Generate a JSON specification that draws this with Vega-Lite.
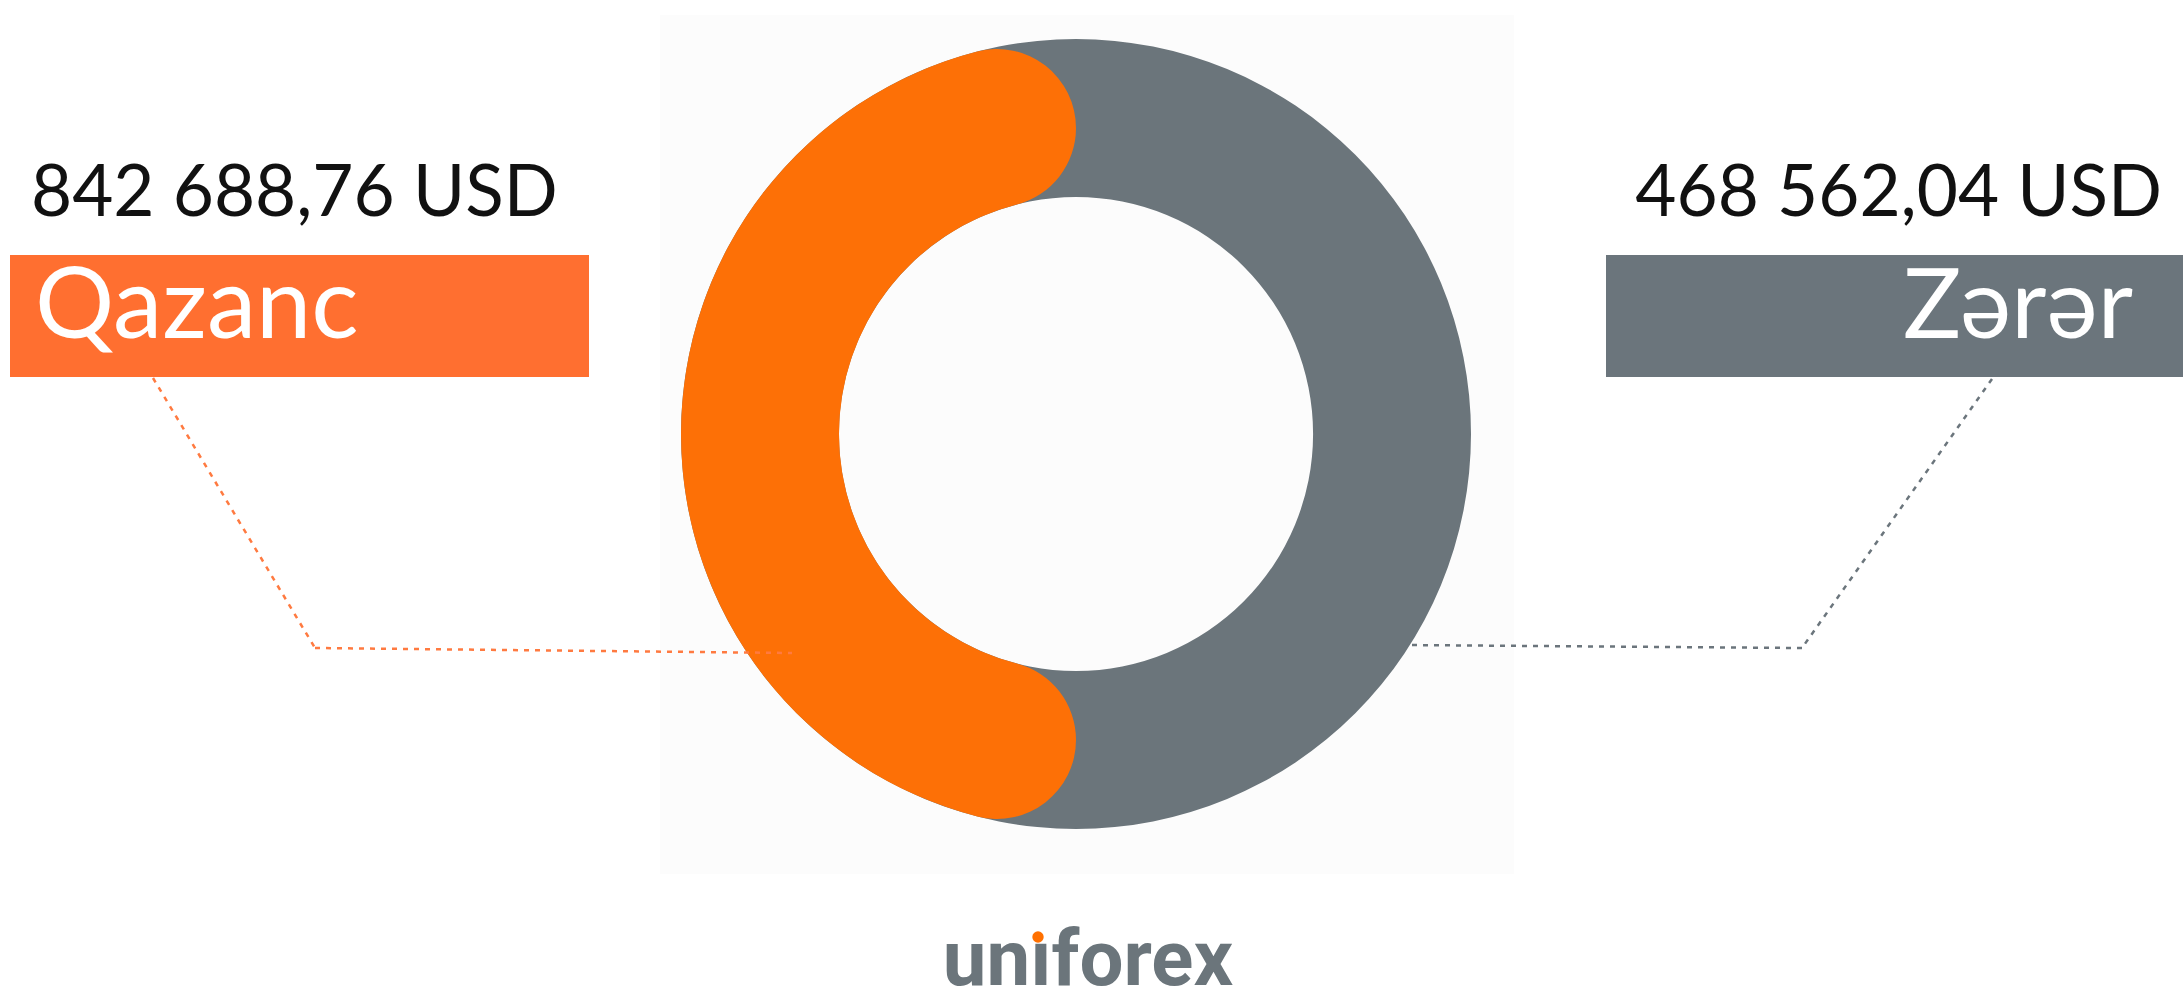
{
  "$schema": "https://vega.github.io/schema/vega-lite/v6.json",
  "width": 2183,
  "height": 990,
  "autosize": {"type": "none"},
  "padding": 0,
  "background": "#ffffff",
  "config": {
    "view": {"stroke": null},
    "locale": {"number": {"decimal": ",", "thousands": " ", "grouping": [3], "currency": ["", " USD"]}}
  },
  "data": {"values": [
    {"category": "Qazanc", "amount": 842688.76},
    {"category": "Zərər", "amount": 468562.04}
  ]},
  "layer": [
    {
      "data": {"values": [{}]},
      "mark": {"type": "rect", "color": "#fcfcfc"},
      "encoding": {
        "x": {"datum": 660, "type": "quantitative", "scale": {"domain": [0, 2183], "nice": false, "zero": false}, "axis": null},
        "x2": {"datum": 1514},
        "y": {"datum": 15, "type": "quantitative", "scale": {"domain": [0, 990], "nice": false, "zero": false, "reverse": true}, "axis": null},
        "y2": {"datum": 874}
      }
    },
    {
      "data": {"values": [{}]},
      "mark": {"type": "rule", "color": "#6b757c", "strokeWidth": 2.5, "strokeDash": [5, 6]},
      "encoding": {
        "x": {"datum": 1992, "type": "quantitative"},
        "y": {"datum": 379, "type": "quantitative"},
        "x2": {"datum": 1802},
        "y2": {"datum": 648}
      }
    },
    {
      "data": {"values": [{}]},
      "mark": {"type": "rule", "color": "#6b757c", "strokeWidth": 2.5, "strokeDash": [5, 6]},
      "encoding": {
        "x": {"datum": 1802, "type": "quantitative"},
        "y": {"datum": 648, "type": "quantitative"},
        "x2": {"datum": 1405},
        "y2": {"datum": 645}
      }
    },
    {
      "transform": [{"filter": "datum.category === 'Zərər'"}],
      "mark": {"type": "arc", "color": "#6b757b", "radius": 395, "radius2": 237, "theta": 0, "theta2": 6.2832},
      "encoding": {
        "x": {"datum": 1076, "type": "quantitative"},
        "y": {"datum": 434, "type": "quantitative"}
      }
    },
    {
      "transform": [{"filter": "datum.category === 'Qazanc'"}],
      "mark": {"type": "arc", "color": "#fd7006", "radius": 395, "radius2": 237, "theta": 3.14159, "theta2": 6.28318, "cornerRadius": 79},
      "encoding": {
        "x": {"datum": 1076, "type": "quantitative"},
        "y": {"datum": 434, "type": "quantitative"}
      }
    },
    {
      "data": {"values": [{}]},
      "mark": {"type": "rule", "color": "#ff7a40", "strokeWidth": 2.5, "strokeDash": [5, 6]},
      "encoding": {
        "x": {"datum": 153, "type": "quantitative"},
        "y": {"datum": 378, "type": "quantitative"},
        "x2": {"datum": 315},
        "y2": {"datum": 648}
      }
    },
    {
      "data": {"values": [{}]},
      "mark": {"type": "rule", "color": "#ff7a40", "strokeWidth": 2.5, "strokeDash": [5, 6]},
      "encoding": {
        "x": {"datum": 315, "type": "quantitative"},
        "y": {"datum": 648, "type": "quantitative"},
        "x2": {"datum": 792},
        "y2": {"datum": 653}
      }
    },
    {
      "transform": [{"filter": "datum.category === 'Qazanc'"}],
      "mark": {"type": "rect", "color": "#ff6f30"},
      "encoding": {
        "x": {"datum": 10, "type": "quantitative"},
        "x2": {"datum": 589},
        "y": {"datum": 255, "type": "quantitative"},
        "y2": {"datum": 377}
      }
    },
    {
      "transform": [{"filter": "datum.category === 'Zərər'"}],
      "mark": {"type": "rect", "color": "#6b757c"},
      "encoding": {
        "x": {"datum": 1606, "type": "quantitative"},
        "x2": {"datum": 2183},
        "y": {"datum": 255, "type": "quantitative"},
        "y2": {"datum": 377}
      }
    },
    {
      "transform": [{"filter": "datum.category === 'Qazanc'"}],
      "mark": {"type": "text", "font": "Lato", "fontSize": 71, "color": "#111111", "align": "left", "baseline": "alphabetic"},
      "encoding": {
        "x": {"datum": 31, "type": "quantitative"},
        "y": {"datum": 216, "type": "quantitative"},
        "text": {"field": "amount", "type": "quantitative", "format": "$,.2f"}
      }
    },
    {
      "transform": [{"filter": "datum.category === 'Zərər'"}],
      "mark": {"type": "text", "font": "Lato", "fontSize": 71, "color": "#111111", "align": "right", "baseline": "alphabetic"},
      "encoding": {
        "x": {"datum": 2162, "type": "quantitative"},
        "y": {"datum": 216, "type": "quantitative"},
        "text": {"field": "amount", "type": "quantitative", "format": "$,.2f"}
      }
    },
    {
      "transform": [{"filter": "datum.category === 'Qazanc'"}],
      "mark": {"type": "text", "font": "Lato", "fontSize": 99, "color": "#ffffff", "align": "left", "baseline": "alphabetic"},
      "encoding": {
        "x": {"datum": 35, "type": "quantitative"},
        "y": {"datum": 338, "type": "quantitative"},
        "text": {"field": "category"}
      }
    },
    {
      "transform": [{"filter": "datum.category === 'Zərər'"}],
      "mark": {"type": "text", "font": "Lato, Noto Sans", "fontSize": 97, "color": "#ffffff", "align": "right", "baseline": "alphabetic"},
      "encoding": {
        "x": {"datum": 2133, "type": "quantitative"},
        "y": {"datum": 338, "type": "quantitative"},
        "text": {"field": "category"}
      }
    },
    {
      "data": {"values": [{"brand": "unıforex"}]},
      "mark": {"type": "text", "font": "Roboto", "fontWeight": "bold", "fontSize": 78, "color": "#6b757b", "align": "center", "baseline": "alphabetic"},
      "encoding": {
        "x": {"datum": 1088, "type": "quantitative"},
        "y": {"datum": 985, "type": "quantitative"},
        "text": {"field": "brand"}
      }
    },
    {
      "data": {"values": [{"brand": "dot"}]},
      "mark": {"type": "point", "shape": "circle", "filled": true, "color": "#ff7000", "opacity": 1, "size": 130},
      "encoding": {
        "x": {"datum": 1038, "type": "quantitative"},
        "y": {"datum": 937, "type": "quantitative"}
      }
    }
  ]
}
